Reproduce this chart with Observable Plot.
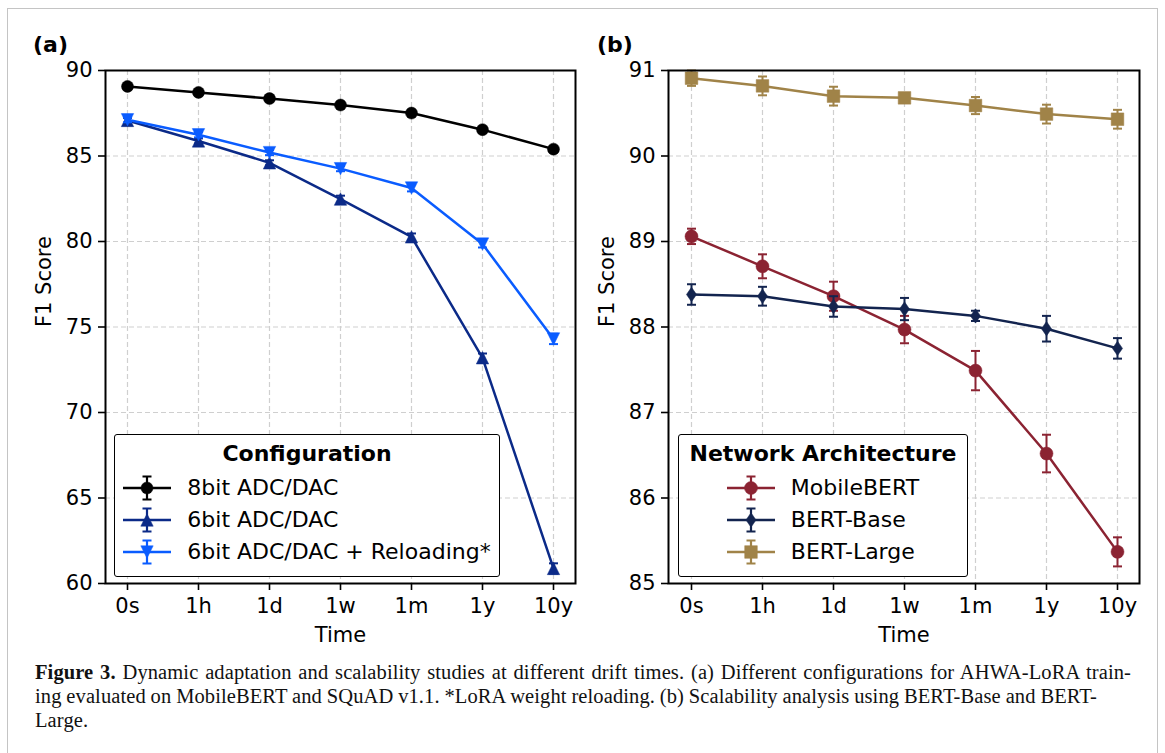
<!DOCTYPE html>
<html>
<head>
<meta charset="utf-8">
<script src="https://cdn.jsdelivr.net/npm/d3@7"></script>
<script src="https://cdn.jsdelivr.net/npm/@observablehq/plot@0.6"></script>
<style>
  html, body { margin: 0; padding: 0; background: #fff; }
  body { width: 1165px; height: 753px; overflow: hidden; position: relative; font-family: "DejaVu Sans", sans-serif; color: #000; }
  #border { position: absolute; left: 7px; top: 8px; width: 1149px; height: 800px; border: 1.5px solid #c4c4c4; }
  .panel { position: absolute; top: 0; }
  .tag { position: absolute; font: bold 22px "DejaVu Sans"; line-height: 22px; }
  .legend { position: absolute; background: #fff; border: 1.6px solid #000; border-radius: 3px; box-sizing: border-box; }
  .legend .title { position: absolute; left: 0; right: 0; top: 6px; height: 30px; line-height: 30px; text-align: center; font: bold 22px "DejaVu Sans"; }
  .legend .rows { position: absolute; top: 36.5px; left: 0; right: 0; display: flex; justify-content: center; }
  .legend .row { height: 32px; line-height: 32px; font: 22px "DejaVu Sans"; white-space: nowrap; display: flex; align-items: center; }
  .legend .row svg { margin-right: 16px; flex: none; }
  #caption { position: absolute; left: 35px; font-family: "Liberation Serif", serif; font-size: 20.5px; line-height: 24px; color: #111; letter-spacing: 0.1px; }
  #caption div { position: absolute; left: 0; white-space: nowrap; }
</style>
</head>
<body>
<div id="border"></div>
<div id="chartA" class="panel" style="left:0px;"></div>
<div id="chartB" class="panel" style="left:580px;"></div>
<div class="tag" style="left:33px; top:34px;">(a)</div>
<div class="tag" style="left:597px; top:34px;">(b)</div>
<div id="caption"></div>
<script>
// ---------------- data ----------------
const times = ["0s", "1h", "1d", "1w", "1m", "1y", "10y"];

// Panel (a): Configuration
const configNames = ["8bit ADC/DAC", "6bit ADC/DAC", "6bit ADC/DAC + Reloading*"];
const bit8      = [89.07, 88.72, 88.36, 87.98, 87.51, 86.54, 85.40];
const bit8Err   = [0.10, 0.10, 0.10, 0.10, 0.10, 0.10, 0.10];
const bit6      = [87.08, 85.88, 84.60, 82.48, 80.27, 73.20, 60.88];
const bit6Err   = [0.15, 0.15, 0.15, 0.20, 0.20, 0.25, 0.30];
const reload    = [87.12, 86.24, 85.20, 84.26, 83.13, 79.85, 74.30];
const reloadErr = [0.15, 0.15, 0.15, 0.15, 0.20, 0.20, 0.30];
const yTicksA   = [60, 65, 70, 75, 80, 85, 90];

// Panel (b): Network Architecture
const archNames = ["MobileBERT", "BERT-Base", "BERT-Large"];
const mobile    = [89.06, 88.71, 88.36, 87.97, 87.49, 86.52, 85.37];
const mobileErr = [0.09, 0.14, 0.17, 0.16, 0.23, 0.22, 0.17];
const base      = [88.38, 88.36, 88.24, 88.21, 88.13, 87.98, 87.75];
const baseErr   = [0.12, 0.11, 0.12, 0.13, 0.06, 0.15, 0.12];
const large     = [90.91, 90.82, 90.70, 90.68, 90.59, 90.49, 90.43];
const largeErr  = [0.09, 0.11, 0.11, 0.03, 0.10, 0.11, 0.11];
const yTicksB   = [85, 86, 87, 88, 89, 90, 91];

// ---------------- symbols ----------------
const rad = s => Math.sqrt(s / Math.PI);
const sym = {
  circle: { draw(c, s) { const r = rad(s); c.moveTo(r, 0); c.arc(0, 0, r, 0, 2 * Math.PI); c.closePath(); } },
  up:     { draw(c, s) { const r = rad(s); c.moveTo(0, -r); c.lineTo(r, r); c.lineTo(-r, r); c.closePath(); } },
  down:   { draw(c, s) { const r = rad(s); c.moveTo(0, r); c.lineTo(r, -r); c.lineTo(-r, -r); c.closePath(); } },
  thinDiamond: { draw(c, s) { const r = rad(s); c.moveTo(0, -r * 1.15); c.lineTo(r * 0.8, 0); c.lineTo(0, r * 1.15); c.lineTo(-r * 0.8, 0); c.closePath(); } },
  square: { draw(c, s) { const r = rad(s) * 0.9; c.moveTo(-r, -r); c.lineTo(r, -r); c.lineTo(r, r); c.lineTo(-r, r); c.closePath(); } },
  cap:    { draw(c, s) { const r = rad(s); c.moveTo(-r, 0); c.lineTo(r, 0); } }
};

const seriesA = [
  { name: configNames[0], values: bit8,   err: bit8Err,   color: "#000000", symbol: sym.circle, r: 6 },
  { name: configNames[1], values: bit6,   err: bit6Err,   color: "#0b2a88", symbol: sym.up,     r: 6.2 },
  { name: configNames[2], values: reload, err: reloadErr, color: "#0a5cff", symbol: sym.down,   r: 6.2 }
];
const seriesB = [
  { name: archNames[0], values: mobile, err: mobileErr, color: "#8b2332", symbol: sym.circle,      r: 6.5 },
  { name: archNames[1], values: base,   err: baseErr,   color: "#13244f", symbol: sym.thinDiamond, r: 6.3 },
  { name: archNames[2], values: large,  err: largeErr,  color: "#a08348", symbol: sym.square,      r: 7 }
];

const gridStyle = { stroke: "#cfcfcf", strokeOpacity: 1, strokeWidth: 1.2, strokeDasharray: "5,3" };

function makePanel(series, yTicks, opts) {
  const marks = [
    Plot.gridX(times, gridStyle),
    Plot.gridY(yTicks, gridStyle)
  ];
  for (const s of series) {
    const d = times.map((t, i) => ({ time: t, value: s.values[i], err: s.err[i], series: s.name }));
    marks.push(Plot.line(d, { x: "time", y: "value", stroke: s.color, strokeWidth: 2.5 }));
    marks.push(Plot.ruleX(d, { x: "time", y1: r => r.value - r.err, y2: r => r.value + r.err, stroke: s.color, strokeWidth: 2 }));
    marks.push(Plot.dot(d, { x: "time", y: r => r.value - r.err, symbol: sym.cap, r: 4.5, stroke: s.color, strokeWidth: 2, fill: "none" }));
    marks.push(Plot.dot(d, { x: "time", y: r => r.value + r.err, symbol: sym.cap, r: 4.5, stroke: s.color, strokeWidth: 2, fill: "none" }));
    marks.push(Plot.dot(d, { x: "time", y: "value", symbol: s.symbol, r: s.r, fill: s.color, stroke: s.color, strokeWidth: 0.5 }));
  }
  marks.push(
    Plot.frame({ stroke: "black", strokeWidth: 2 }),
    Plot.axisY(yTicks, { tickSize: 7, tickPadding: 6, fontSize: 21, label: null, strokeWidth: 1.6, tickFormat: d3.format("d") }),
    Plot.axisX(times, { tickSize: 7, tickPadding: 8, fontSize: 21, label: null, strokeWidth: 1.6 }),
    Plot.text(["F1 Score"], { text: d => d, frameAnchor: "left", rotate: -90, dx: -61, fontSize: 21 }),
    Plot.text(["Time"], { text: d => d, frameAnchor: "bottom", dy: 58, fontSize: 21 })
  );
  return Plot.plot({
    width: opts.width,
    height: 660,
    marginLeft: opts.marginLeft,
    marginRight: opts.marginRight,
    marginTop: 70,
    marginBottom: 77,
    style: { fontFamily: "DejaVu Sans", fontSize: "21px", color: "#000", background: "transparent", overflow: "visible" },
    x: { type: "point", domain: times, padding: 0.3 },
    y: { domain: [yTicks[0], yTicks[yTicks.length - 1]] },
    marks
  });
}

document.getElementById("chartA").append(makePanel(seriesA, yTicksA, { width: 580, marginLeft: 105, marginRight: 5 }));
document.getElementById("chartB").append(makePanel(seriesB, yTicksB, { width: 585, marginLeft: 88, marginRight: 26 }));

// ---------------- legends ----------------
function swatch(s) {
  const w = 48, h = 30, cx = 24, cy = 15;
  const ns = "http://www.w3.org/2000/svg";
  const svg = document.createElementNS(ns, "svg");
  svg.setAttribute("width", w); svg.setAttribute("height", h);
  const path = (d, attrs) => { const p = document.createElementNS(ns, "path"); p.setAttribute("d", d); for (const k in attrs) p.setAttribute(k, attrs[k]); svg.appendChild(p); };
  path(`M0,${cy}H${w}`, { stroke: s.color, "stroke-width": 2.5, fill: "none" });
  path(`M${cx},${cy - 11.5}V${cy + 11.5}M${cx - 4.5},${cy - 11.5}H${cx + 4.5}M${cx - 4.5},${cy + 11.5}H${cx + 4.5}`, { stroke: s.color, "stroke-width": 2.2, fill: "none" });
  const g = d3.symbol().type(s.symbol).size(Math.PI * s.r * s.r)();
  path(g, { transform: `translate(${cx},${cy})`, fill: s.color, stroke: s.color, "stroke-width": 0.5 });
  return svg;
}
function legend(title, series, box) {
  const div = document.createElement("div");
  div.className = "legend";
  Object.assign(div.style, { left: box.left + "px", top: box.top + "px", width: box.width + "px", height: box.height + "px" });
  const t = document.createElement("div"); t.className = "title"; t.textContent = title; div.appendChild(t);
  const rows = document.createElement("div"); rows.className = "rows";
  const inner = document.createElement("div");
  for (const s of series) {
    const row = document.createElement("div"); row.className = "row";
    row.appendChild(swatch(s));
    const span = document.createElement("span"); span.textContent = s.name; row.appendChild(span);
    inner.appendChild(row);
  }
  rows.appendChild(inner);
  div.appendChild(rows);
  document.body.appendChild(div);
}
legend("Configuration", seriesA, { left: 114, top: 434, width: 386, height: 143 });
legend("Network Architecture", seriesB, { left: 678, top: 434, width: 290, height: 143 });

// ---------------- caption ----------------
const captionLines = [
  { html: "<b>Figure 3.</b> Dynamic adaptation and scalability studies at different drift times. (a) Different configurations for AHWA-LoRA train-", top: 659.6, width: 1096 },
  { html: "ing evaluated on MobileBERT and SQuAD v1.1. *LoRA weight reloading. (b) Scalability analysis using BERT-Base and BERT-", top: 684.3, width: 1062 },
  { html: "Large.", top: 707.6, width: null }
];
const cap = document.getElementById("caption");
for (const l of captionLines) {
  const d = document.createElement("div");
  d.innerHTML = l.html;
  d.style.top = l.top + "px";
  cap.appendChild(d);
  if (l.width) {
    const natural = d.getBoundingClientRect().width;
    const spaces = (d.textContent.match(/ /g) || []).length;
    if (spaces) d.style.wordSpacing = ((l.width - natural) / spaces) + "px";
  }
}
</script>
</body>
</html>
